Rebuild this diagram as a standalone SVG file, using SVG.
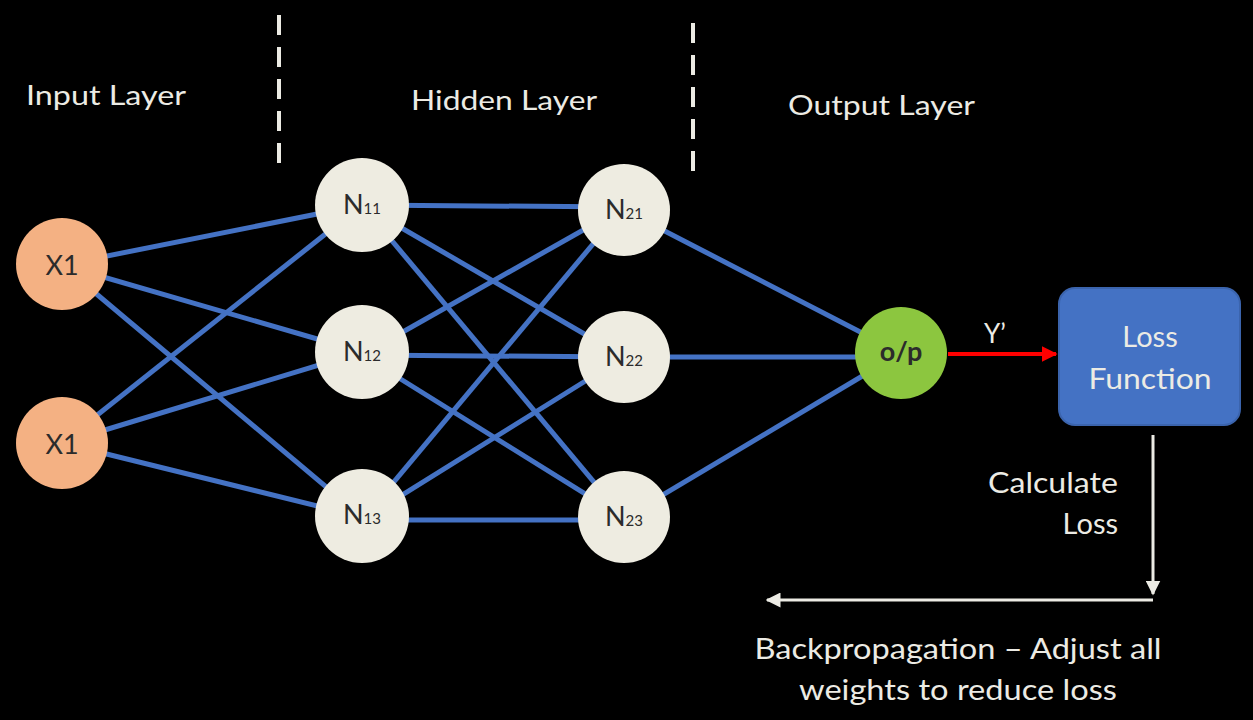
<svg xmlns="http://www.w3.org/2000/svg" width="1253" height="720" viewBox="0 0 1253 720">
<style>
.hdr{font-family:Lato,"Open Sans","Liberation Sans",sans-serif;font-size:27px;fill:#ecebe4}
.lbl{font-family:Lato,"Open Sans","Liberation Sans",sans-serif;fill:#ecebe4}
.edge{stroke:#4472c4;stroke-width:5;fill:none}
.hid{fill:#eeece1}
.ntxt{font-family:Lato,"Open Sans","Liberation Sans",sans-serif;fill:#2b2b2b;font-size:27px;text-anchor:middle}
.sub{font-size:15px}
.dash{stroke:#ecebe4;stroke-width:4;stroke-dasharray:20 12}
</style>
<defs>
<marker id="redhead" viewBox="0 0 10 10" refX="9" refY="5" markerWidth="4" markerHeight="4" orient="auto" markerUnits="strokeWidth"><path d="M0,0 L10,5 L0,10 z" fill="#ff0000"/></marker>
<marker id="whitehead" viewBox="0 0 10 10" refX="9" refY="5" markerWidth="5" markerHeight="5" orient="auto" markerUnits="strokeWidth"><path d="M0,0 L10,5 L0,10 z" fill="#ecebe4"/></marker>
</defs>
<rect width="1253" height="720" fill="#000"/>
<g id="headers">
<text class="hdr" x="26" y="105" textLength="160" lengthAdjust="spacingAndGlyphs">Input Layer</text>
<text class="hdr" x="411" y="110" textLength="186" lengthAdjust="spacingAndGlyphs">Hidden Layer</text>
<text class="hdr" x="788" y="115" textLength="187" lengthAdjust="spacingAndGlyphs">Output Layer</text>
<line class="dash" x1="279" y1="15" x2="279" y2="174"/>
<line class="dash" x1="693" y1="23" x2="693" y2="183"/>
</g>
<g id="connectors">
<g class="edge">
<line x1="62" y1="265" x2="362" y2="205"/>
<line x1="62" y1="265" x2="362" y2="352"/>
<line x1="62" y1="265" x2="362" y2="517"/>
<line x1="62" y1="443" x2="362" y2="205"/>
<line x1="62" y1="443" x2="362" y2="352"/>
<line x1="62" y1="443" x2="362" y2="517"/>
<line x1="362" y1="205" x2="624" y2="207"/>
<line x1="362" y1="205" x2="624" y2="357"/>
<line x1="362" y1="205" x2="624" y2="518"/>
<line x1="362" y1="355" x2="624" y2="207"/>
<line x1="362" y1="355" x2="624" y2="357"/>
<line x1="362" y1="355" x2="624" y2="518"/>
<line x1="362" y1="520" x2="624" y2="207"/>
<line x1="362" y1="520" x2="624" y2="357"/>
<line x1="362" y1="520" x2="624" y2="520"/>
<line x1="624" y1="210" x2="901" y2="353"/>
<line x1="624" y1="357" x2="901" y2="357"/>
<line x1="624" y1="518" x2="901" y2="353"/>
</g>
<line x1="948" y1="354" x2="1056" y2="354" stroke="#ff0000" stroke-width="4" marker-end="url(#redhead)"/>
<line x1="1153" y1="435" x2="1153" y2="594" stroke="#ecebe4" stroke-width="3" marker-end="url(#whitehead)"/>
<polyline points="1153,600 767,600" fill="none" stroke="#ecebe4" stroke-width="3" marker-end="url(#whitehead)"/>
</g>
<g id="x1a"><circle cx="62" cy="264" r="46" fill="#f4b183"/><text class="ntxt" x="62" y="275" font-size="30">X1</text></g>
<g id="x1b"><circle cx="62" cy="443" r="46" fill="#f4b183"/><text class="ntxt" x="62" y="454" font-size="30">X1</text></g>
<g id="n11"><circle class="hid" cx="362" cy="205" r="47"/><text class="ntxt" x="362" y="214">N<tspan class="sub">11</tspan></text></g>
<g id="n12"><circle class="hid" cx="362" cy="352" r="47"/><text class="ntxt" x="362" y="361">N<tspan class="sub">12</tspan></text></g>
<g id="n13"><circle class="hid" cx="362" cy="516" r="47"/><text class="ntxt" x="362" y="524">N<tspan class="sub">13</tspan></text></g>
<g id="n21"><circle class="hid" cx="624" cy="210" r="46"/><text class="ntxt" x="624" y="219">N<tspan class="sub">21</tspan></text></g>
<g id="n22"><circle class="hid" cx="624" cy="357" r="46"/><text class="ntxt" x="624" y="366">N<tspan class="sub">22</tspan></text></g>
<g id="n23"><circle class="hid" cx="624" cy="517" r="46"/><text class="ntxt" x="624" y="526">N<tspan class="sub">23</tspan></text></g>
<g id="op"><circle cx="901" cy="353" r="46" fill="#8cc63f"/><text class="ntxt" x="901" y="361" font-size="20" font-weight="bold">o/p</text></g>
<g id="yprime"><text class="lbl" x="995" y="343" font-size="26" text-anchor="middle">Y’</text></g>
<g id="loss">
<rect x="1059" y="288" width="181" height="137" rx="16" fill="#4472c4" stroke="#3b64ad" stroke-width="2"/>
<text class="lbl" x="1150" y="347" font-size="29" text-anchor="middle">Loss</text>
<text class="lbl" x="1150" y="389" font-size="29" text-anchor="middle" textLength="123" lengthAdjust="spacingAndGlyphs">Function</text>
</g>
<g id="calc">
<text class="lbl" x="1118" y="493" font-size="28" text-anchor="end" textLength="130" lengthAdjust="spacingAndGlyphs">Calculate</text>
<text class="lbl" x="1118" y="534" font-size="29" text-anchor="end">Loss</text>
</g>
<g id="backprop">
<text class="lbl" x="958" y="659" font-size="29" text-anchor="middle" textLength="407" lengthAdjust="spacingAndGlyphs">Backpropagation – Adjust all</text>
<text class="lbl" x="958" y="700" font-size="29" text-anchor="middle" textLength="318" lengthAdjust="spacingAndGlyphs">weights to reduce loss</text>
</g>
</svg>
